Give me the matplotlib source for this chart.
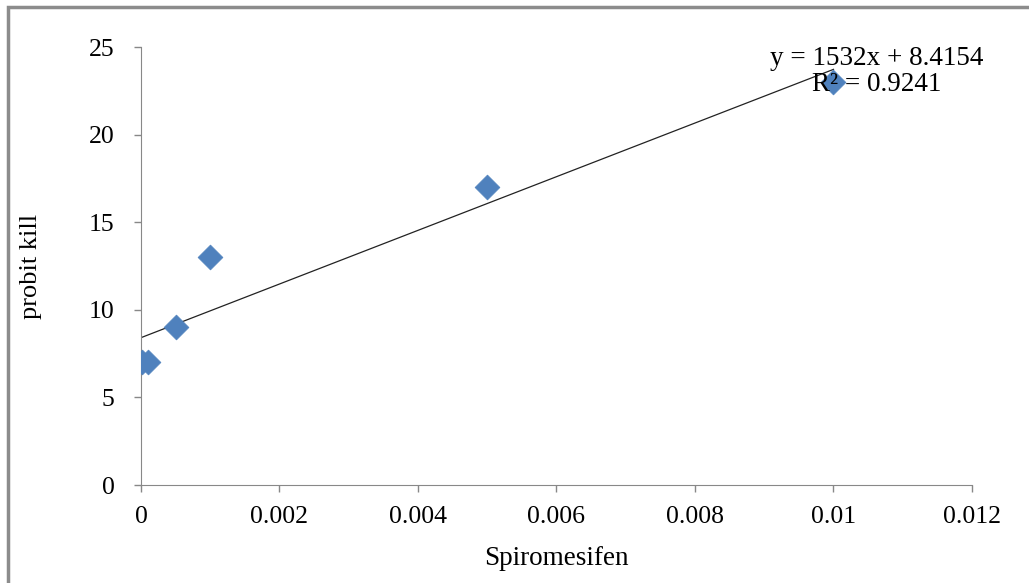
import matplotlib
matplotlib.use('Agg')
import matplotlib.pyplot as plt
from matplotlib.patches import Rectangle
import numpy as np

plt.rcParams['font.family'] = ['Liberation Serif', 'DejaVu Serif']

# данные
conc = [0.00001, 0.0001, 0.0005, 0.001, 0.005, 0.01]
probit = [7, 7, 9, 13, 17, 23]
slope = 1532
intercept = 8.4154
r2 = 0.9241
x_ticks = [0, 0.002, 0.004, 0.006, 0.008, 0.01, 0.012]
x_labels = ["0", "0.002", "0.004", "0.006", "0.008", "0.01", "0.012"]
y_ticks = [0, 5, 10, 15, 20, 25]

fig = plt.figure(figsize=(10.29, 5.83), dpi=100)
ax = fig.add_axes([0.137, 0.168, 0.8076, 0.751])

# рамка вокруг графика
fig.add_artist(Rectangle((0.0075, -0.05), 1.1, 1.038, transform=fig.transFigure,
                         fill=False, edgecolor='#8c8c8c', linewidth=2.5))

line_x = np.array([0, 0.01])
ax.plot(line_x, slope * line_x + intercept, color='#222222', linewidth=0.9, zorder=2)
ax.scatter(conc, probit, marker='D', s=160, color='#4f81bd', edgecolors='#4f81bd',
           linewidths=0.5, zorder=3)

ax.text(0.01063, 24.35, f"y = {slope}x + {intercept}", fontsize=19.5, ha='center', va='center')
ax.text(0.01063, 22.9, f"R² = {r2}", fontsize=19.5, ha='center', va='center')

ax.set_xlim(0, 0.012)
ax.set_ylim(0, 25)
ax.set_xticks(x_ticks)
ax.set_xticklabels(x_labels)
ax.set_yticks(y_ticks)
ax.tick_params(labelsize=18.5, direction='out', length=5, color='#888888', width=1, pad=14)
ax.tick_params(axis='x', pad=10)

for s in ['top', 'right']:
    ax.spines[s].set_visible(False)
for s in ['left', 'bottom']:
    ax.spines[s].set_color('#888888')

ax.set_xlabel("Spiromesifen", fontsize=19.5, labelpad=13)
ax.set_ylabel("probit kill", fontsize=19, labelpad=34)

plt.savefig("out.png", dpi=100)
plt.close()
